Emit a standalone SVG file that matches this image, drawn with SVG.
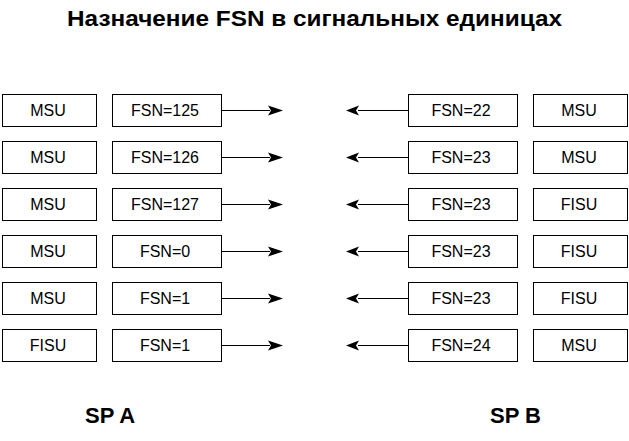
<svg xmlns="http://www.w3.org/2000/svg" width="629" height="441" viewBox="0 0 629 441">
<style>
.box{fill:#fff;stroke:#000;stroke-width:1}
.t{font-family:"Liberation Sans",Arial,sans-serif;font-size:16px;fill:#000;text-anchor:middle}
.h{font-family:"Liberation Sans",Arial,sans-serif;font-weight:bold;fill:#000}
.ln{stroke:#000;stroke-width:1;fill:none}
.ah{fill:#000;stroke:none}
</style>
<defs>
<path id="ar" class="ah" d="M0,0 L-15,-5 L-12,0 L-15,5 Z"/>
<path id="al" class="ah" d="M0,0 L13,-5 L10,0 L13,5 Z"/>
</defs>
<rect width="629" height="441" fill="#fff"/>
<text class="h" x="67" y="25.5" font-size="22" textLength="495" lengthAdjust="spacingAndGlyphs">Назначение FSN в сигнальных единицах</text>
<g id="a1"><rect class="box" x="2.5" y="94.5" width="94" height="32"/><text class="t" x="48" y="116">MSU</text></g>
<g id="a2"><rect class="box" x="112.5" y="94.5" width="109" height="32"/><text class="t" x="165" y="116">FSN=125</text></g>
<g id="b1"><rect class="box" x="408.5" y="94.5" width="109" height="32"/><text class="t" x="461" y="116">FSN=22</text></g>
<g id="c1"><rect class="box" x="533.5" y="94.5" width="94" height="32"/><text class="t" x="579" y="116">MSU</text></g>

<g id="a3"><rect class="box" x="2.5" y="141.5" width="94" height="32"/><text class="t" x="48" y="163">MSU</text></g>
<g id="a4"><rect class="box" x="112.5" y="141.5" width="109" height="32"/><text class="t" x="165" y="163">FSN=126</text></g>
<g id="b2"><rect class="box" x="408.5" y="141.5" width="109" height="32"/><text class="t" x="461" y="163">FSN=23</text></g>
<g id="c2"><rect class="box" x="533.5" y="141.5" width="94" height="32"/><text class="t" x="579" y="163">MSU</text></g>

<g id="a5"><rect class="box" x="2.5" y="188.5" width="94" height="32"/><text class="t" x="48" y="210">MSU</text></g>
<g id="a6"><rect class="box" x="112.5" y="188.5" width="109" height="32"/><text class="t" x="165" y="210">FSN=127</text></g>
<g id="b3"><rect class="box" x="408.5" y="188.5" width="109" height="32"/><text class="t" x="461" y="210">FSN=23</text></g>
<g id="c3"><rect class="box" x="533.5" y="188.5" width="94" height="32"/><text class="t" x="579" y="210">FISU</text></g>

<g id="a7"><rect class="box" x="2.5" y="235.5" width="94" height="32"/><text class="t" x="48" y="257">MSU</text></g>
<g id="a8"><rect class="box" x="112.5" y="235.5" width="109" height="32"/><text class="t" x="165" y="257">FSN=0</text></g>
<g id="b4"><rect class="box" x="408.5" y="235.5" width="109" height="32"/><text class="t" x="461" y="257">FSN=23</text></g>
<g id="c4"><rect class="box" x="533.5" y="235.5" width="94" height="32"/><text class="t" x="579" y="257">FISU</text></g>

<g id="a9"><rect class="box" x="2.5" y="282.5" width="94" height="32"/><text class="t" x="48" y="304">MSU</text></g>
<g id="a10"><rect class="box" x="112.5" y="282.5" width="109" height="32"/><text class="t" x="165" y="304">FSN=1</text></g>
<g id="b5"><rect class="box" x="408.5" y="282.5" width="109" height="32"/><text class="t" x="461" y="304">FSN=23</text></g>
<g id="c5"><rect class="box" x="533.5" y="282.5" width="94" height="32"/><text class="t" x="579" y="304">FISU</text></g>

<g id="a11"><rect class="box" x="2.5" y="329.5" width="94" height="32"/><text class="t" x="48" y="351">FISU</text></g>
<g id="a12"><rect class="box" x="112.5" y="329.5" width="109" height="32"/><text class="t" x="165" y="351">FSN=1</text></g>
<g id="b6"><rect class="box" x="408.5" y="329.5" width="109" height="32"/><text class="t" x="461" y="351">FSN=24</text></g>
<g id="c6"><rect class="box" x="533.5" y="329.5" width="94" height="32"/><text class="t" x="579" y="351">MSU</text></g>

<g id="connectors">
<path class="ln" d="M222,110.5H270M222,157.5H270M222,204.5H270M222,251.5H270M222,298.5H270M222,345.5H270"/>
<path class="ln" d="M358,110.5H408M358,157.5H408M358,204.5H408M358,251.5H408M358,298.5H408M358,345.5H408"/>
<use href="#ar" x="283" y="110.5"/><use href="#ar" x="283" y="157.5"/><use href="#ar" x="283" y="204.5"/><use href="#ar" x="283" y="251.5"/><use href="#ar" x="283" y="298.5"/><use href="#ar" x="283" y="345.5"/>
<use href="#al" x="346" y="110.5"/><use href="#al" x="346" y="157.5"/><use href="#al" x="346" y="204.5"/><use href="#al" x="346" y="251.5"/><use href="#al" x="346" y="298.5"/><use href="#al" x="346" y="345.5"/>
</g>
<text class="h" x="85" y="423" font-size="22">SP A</text>
<text class="h" x="490" y="423" font-size="22">SP B</text>
</svg>
